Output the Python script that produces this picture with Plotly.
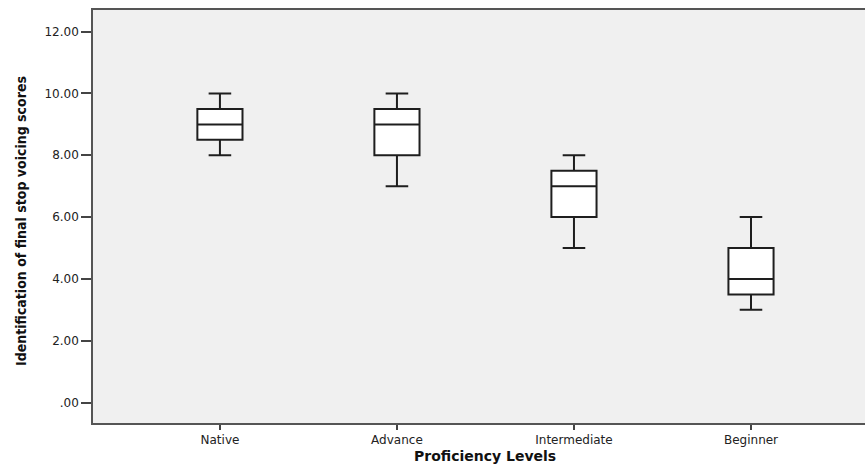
import plotly.graph_objects as go

categories = ["Native", "Advance", "Intermediate", "Beginner"]
mins = [8.0, 7.0, 5.0, 3.0]
q1s = [8.5, 8.0, 6.0, 3.5]
medians = [9.0, 9.0, 7.0, 4.0]
q3s = [9.5, 9.5, 7.5, 5.0]
maxs = [10.0, 10.0, 8.0, 6.0]
y_ticks = [0, 2, 4, 6, 8, 10, 12]
y_tick_labels = [".00", "2.00", "4.00", "6.00", "8.00", "10.00", "12.00"]

W, H = 865, 465
L, R, T, B = 93, 0, 10, 42
pw, ph = W - L - R, H - T - B

fig = go.Figure()
fig.add_trace(go.Box(
    x=categories,
    q1=q1s, median=medians, q3=q3s,
    lowerfence=mins, upperfence=maxs,
    fillcolor="white",
    line=dict(color="#1e1e1e", width=2),
    whiskerwidth=0.5,
    width=0.255,
    boxpoints=False,
    showlegend=False,
    hoverinfo="skip",
))

fig.update_layout(
    width=W, height=H,
    margin=dict(l=L, r=R, t=T, b=B, autoexpand=False),
    paper_bgcolor="white",
    plot_bgcolor="#F0F0F0",
    font=dict(family="DejaVu Sans", color="#222"),
)
fig.update_xaxes(
    type="category",
    range=[-0.717, 3.644],
    automargin=False,
    showline=True, linecolor="#555", linewidth=1.5, mirror=True,
    ticks="outside", ticklen=5, tickcolor="#444", tickwidth=1.5,
    tickfont=dict(family="DejaVu Sans", size=12, color="#222"),
    showgrid=False, zeroline=False,
)
fig.update_yaxes(
    range=[-0.66, 12.7],
    automargin=False,
    tickvals=y_ticks, ticktext=y_tick_labels,
    showline=True, linecolor="#555", linewidth=1.5,
    ticks="outside", ticklen=10, tickcolor="#444", tickwidth=1.5,
    tickfont=dict(family="DejaVu Sans", size=12, color="#222"),
    showgrid=False, zeroline=False,
)

fig.add_annotation(
    text="<b>Identification of final stop voicing scores</b>",
    textangle=-90, showarrow=False,
    xref="paper", yref="paper",
    x=(21 - L) / pw, y=(H - B - 221) / ph,
    xanchor="center", yanchor="middle",
    font=dict(family="Liberation Sans Narrow, DejaVu Sans Condensed, Arial Narrow, sans-serif", size=14, color="#111"),
)
fig.add_annotation(
    text="<b>Proficiency Levels</b>",
    showarrow=False,
    xref="paper", yref="paper",
    x=(485 - L) / pw, y=(H - B - 456) / ph,
    xanchor="center", yanchor="middle",
    font=dict(family="DejaVu Sans", size=14, color="#111"),
)

fig.write_html(
    "out.html",
    config={"displayModeBar": False},
    post_script="document.body.style.margin='0';document.body.style.overflow='hidden';",
)
